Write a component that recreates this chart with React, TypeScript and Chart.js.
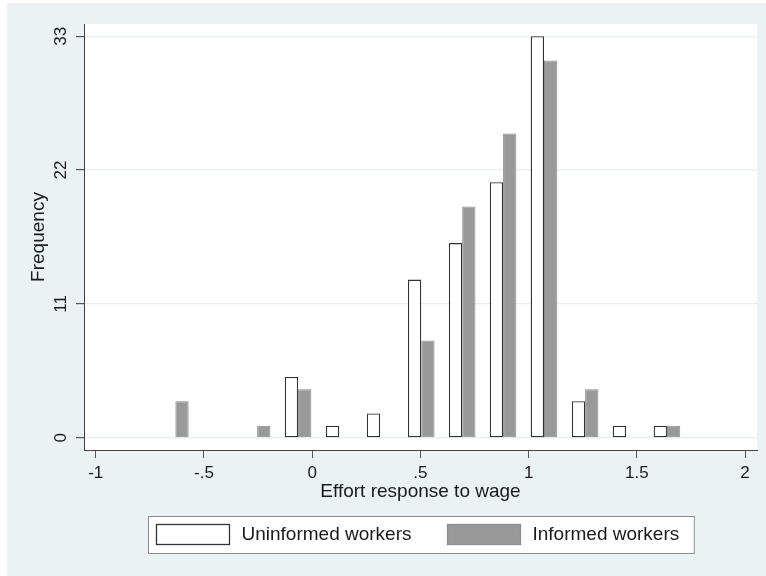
import React, { useEffect, useRef } from 'react';
import { Chart, registerables } from 'chart.js';

Chart.register(...registerables);

// ---- data ----
const binCenters = [-0.632, -0.443, -0.254, -0.065, 0.125, 0.314, 0.504, 0.693, 0.882, 1.071, 1.261, 1.45, 1.639];
const uninformedCounts = [null, null, null, 5, 1, 2, 13, 16, 21, 33, 3, 1, 1];
const informedCounts = [3, null, 1, 4, null, null, 8, 19, 25, 31, 4, null, 1];
const seriesLabels = ['Uninformed workers', 'Informed workers'];
const xTickValues = [-1, -0.5, 0, 0.5, 1, 1.5, 2];
const xTickLabels = ['-1', '-.5', '0', '.5', '1', '1.5', '2'];
const yTickValues = [0, 11, 22, 33];
const yTickLabels = ['0', '11', '22', '33'];
const xAxisTitle = 'Effort response to wage';
const yAxisTitle = 'Frequency';

// ---- styles ----
const FONT = '"Liberation Sans", Arial, Helvetica, sans-serif';
const TEXT = '#1a1a1a';
const OUTER_BG = '#eaf2f3';
const AXIS = '#404040';

const backgroundPlugin = {
  id: 'stataBackground',
  beforeDraw(chart: any) {
    const { ctx, width, height, chartArea } = chart;
    ctx.save();
    ctx.fillStyle = '#ffffff';
    ctx.fillRect(0, 0, width, height);
    ctx.fillStyle = OUTER_BG;
    ctx.fillRect(7, 3, width - 7, height - 3);
    ctx.fillStyle = '#ffffff';
    ctx.fillRect(chartArea.left, chartArea.top, chartArea.right - chartArea.left, chartArea.bottom - chartArea.top);
    ctx.restore();
  },
};

const legendPlugin = {
  id: 'stataLegend',
  afterDraw(chart: any) {
    const { ctx, chartArea } = chart;
    ctx.save();
    ctx.font = `19px ${FONT}`;
    const sw = 73, sh = 20, gapText = 12, gapItem = 36, padL = 8, padR = 15, boxH = 37;
    const items = chart.data.datasets.map((ds: any) => ({
      label: ds.label,
      fill: ds.backgroundColor,
      stroke: ds.legendStroke,
      w: ctx.measureText(ds.label).width,
    }));
    const contentW = items.reduce((s: number, it: any, i: number) => s + sw + gapText + it.w + (i > 0 ? gapItem : 0), 0);
    const boxW = padL + contentW + padR;
    const cx = (chartArea.left + chartArea.right) / 2;
    const bx = Math.round(cx - boxW / 2) + 0.5;
    const by = Math.round(chartArea.bottom + 66) + 0.5;
    ctx.fillStyle = '#ffffff';
    ctx.fillRect(bx, by, boxW, boxH);
    ctx.strokeStyle = '#8a8a8a';
    ctx.lineWidth = 1;
    ctx.strokeRect(bx, by, boxW, boxH);
    let x = bx + padL;
    const sy = by + 8;
    items.forEach((it: any, i: number) => {
      if (i > 0) x += gapItem;
      ctx.fillStyle = it.fill;
      ctx.fillRect(x, sy, sw, sh);
      ctx.strokeStyle = it.stroke;
      ctx.lineWidth = 1.3;
      ctx.strokeRect(x, sy, sw, sh);
      x += sw + gapText;
      ctx.fillStyle = TEXT;
      ctx.textBaseline = 'middle';
      ctx.textAlign = 'left';
      ctx.fillText(it.label, x, sy + sh / 2 + 0.5);
      x += it.w;
    });
    ctx.restore();
  },
};

export default function App() {
  const canvasRef = useRef<HTMLCanvasElement | null>(null);

  useEffect(() => {
    if (!canvasRef.current) return;
    const chart = new Chart(canvasRef.current, {
      type: 'bar',
      data: {
        datasets: [
          {
            label: seriesLabels[0],
            data: binCenters.map((x, i) => ({ x, y: uninformedCounts[i] })),
            backgroundColor: '#ffffff',
            borderColor: '#333333',
            legendStroke: '#333333',
            borderWidth: 1.3,
            borderSkipped: false,
            categoryPercentage: 0.65,
            barPercentage: 1.0,
          } as any,
          {
            label: seriesLabels[1],
            data: binCenters.map((x, i) => ({ x, y: informedCounts[i] })),
            backgroundColor: '#999999',
            borderColor: '#8e8e8e',
            legendStroke: '#8e8e8e',
            borderWidth: 1,
            borderSkipped: false,
            categoryPercentage: 0.65,
            barPercentage: 1.0,
          } as any,
        ],
      },
      options: {
        animation: false,
        responsive: false,
        maintainAspectRatio: false,
        layout: { padding: { left: 0, top: 24, right: 9, bottom: 0 }, autoPadding: false } as any,
        plugins: {
          legend: { display: false },
          tooltip: { enabled: false },
        },
        scales: {
          x: {
            type: 'linear',
            min: -1.054,
            max: 2.055,
            offset: false,
            afterFit: (scale: any) => { scale.height = 126; },
            afterBuildTicks: (scale: any) => { scale.ticks = xTickValues.map((v) => ({ value: v })); },
            grid: { display: true, drawOnChartArea: false, offset: false, tickLength: 8, tickColor: '#555555', color: '#555555', lineWidth: 1 },
            border: { display: true, color: AXIS, width: 1 },
            ticks: {
              padding: 5,
              color: TEXT,
              font: { family: FONT, size: 17 },
              maxRotation: 0,
              minRotation: 0,
              autoSkip: false,
              callback: (value: any) => { const i = xTickValues.indexOf(Number(value)); return i >= 0 ? xTickLabels[i] : ''; },
            },
            title: {
              display: true,
              text: xAxisTitle,
              color: TEXT,
              font: { family: FONT, size: 19 },
              padding: { top: 0, bottom: 73 },
            },
          },
          y: {
            type: 'linear',
            min: -1,
            max: 34,
            afterFit: (scale: any) => { scale.width = 84; },
            afterBuildTicks: (scale: any) => { scale.ticks = yTickValues.map((v) => ({ value: v })); },
            grid: { display: true, drawOnChartArea: true, tickLength: 8, tickColor: '#555555', color: '#e6eef0', lineWidth: 1.2 },
            border: { display: true, color: AXIS, width: 1 },
            ticks: {
              padding: 5,
              color: TEXT,
              font: { family: FONT, size: 17 },
              minRotation: 90,
              maxRotation: 90,
              crossAlign: 'center',
              autoSkip: false,
              callback: (value: any) => { const i = yTickValues.indexOf(Number(value)); return i >= 0 ? yTickLabels[i] : ''; },
            },
            title: {
              display: true,
              text: yAxisTitle,
              color: TEXT,
              font: { family: FONT, size: 19 },
              padding: { top: 27, bottom: 0 },
            },
          },
        },
      } as any,
      plugins: [backgroundPlugin, legendPlugin],
    });
    return () => chart.destroy();
  }, []);

  return (
    <div style={{ position: 'absolute', left: 0, top: 0, width: 766, height: 576 }}>
      <canvas ref={canvasRef} width={766} height={576} style={{ display: 'block', width: 766, height: 576 }} />
    </div>
  );
}
